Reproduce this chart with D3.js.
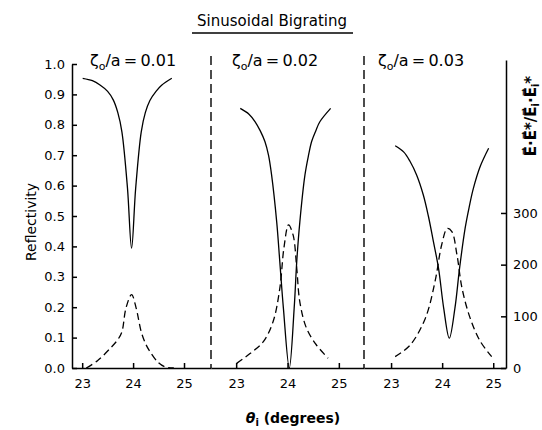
<!DOCTYPE html>
<html>
<head>
<meta charset="utf-8">
<script src="https://cdn.jsdelivr.net/npm/d3@7"></script>
<style>
  body { margin: 0; background: #fff; }
  svg { display: block; }
</style>
</head>
<body>
<div id="chart"></div>
<script>
// roughness values per panel
var ratios = ["0.01", "0.02", "0.03"];
var thetaTicks = [23, 24, 25];
var reflTicks = [0, 0.1, 0.2, 0.3, 0.4, 0.5, 0.6, 0.7, 0.8, 0.9, 1.0];
var intensTicks = [0, 100, 200, 300];

// reflectivity (solid)
var solid1Theta = [23.01, 23.2, 23.35, 23.5, 23.61, 23.7, 23.78, 23.89, 23.97, 24.05, 24.16, 24.24, 24.33, 24.45, 24.56, 24.76];
var solid1R     = [0.953, 0.945, 0.931, 0.91, 0.882, 0.84, 0.777, 0.591, 0.394, 0.59, 0.777, 0.84, 0.88, 0.91, 0.93, 0.953];
var solid2Theta = [23.08, 23.25, 23.37, 23.47, 23.56, 23.63, 23.69, 23.79, 23.85, 23.92, 24.035, 24.13, 24.18, 24.24, 24.34, 24.41, 24.47, 24.55, 24.63, 24.84];
var solid2R     = [0.854, 0.835, 0.81, 0.78, 0.745, 0.7, 0.635, 0.48, 0.35, 0.197, 0.0, 0.197, 0.35, 0.48, 0.635, 0.7, 0.745, 0.78, 0.81, 0.854];
var solid3Theta = [23.08, 23.25, 23.37, 23.5, 23.63, 23.73, 23.83, 23.93, 24.03, 24.14, 24.25, 24.34, 24.45, 24.53, 24.61, 24.75, 24.91];
var solid3R     = [0.731, 0.71, 0.68, 0.635, 0.57, 0.5, 0.415, 0.327, 0.197, 0.098, 0.197, 0.327, 0.46, 0.53, 0.59, 0.665, 0.723];

// field intensity (dashed), right axis
var dash1Theta = [23.08, 23.3, 23.55, 23.7, 23.78, 23.86, 23.97, 24.06, 24.16, 24.25, 24.33, 24.5, 24.63, 24.8];
var dash1I     = [0, 14, 38, 55, 70, 116, 142, 116, 70, 46, 32, 10, 2, 0];
var dash2Theta = [23.01, 23.27, 23.53, 23.72, 23.85, 23.93, 24.02, 24.11, 24.18, 24.24, 24.37, 24.56, 24.79];
var dash2I     = [9, 28, 51, 90, 154, 232, 277, 257, 193, 128, 77, 45, 19];
var dash3Theta = [23.08, 23.37, 23.67, 23.86, 23.99, 24.1, 24.19, 24.29, 24.39, 24.55, 24.75, 24.97];
var dash3I     = [22, 44, 96, 167, 238, 270, 264, 219, 154, 96, 51, 22];

var solids = [[solid1Theta, solid1R], [solid2Theta, solid2R], [solid3Theta, solid3R]];
var dashes = [[dash1Theta, dash1I], [dash2Theta, dash2I], [dash3Theta, dash3I]];

var width = 542, height = 430,
    fontFamily = "DejaVu Sans, sans-serif",
    panels = [
      {domain: [22.8, 25.53], range: [72, 211]},
      {domain: [22.51, 25.49], range: [211, 364]},
      {domain: [22.47, 25.25], range: [364, 506]}
    ];

var svg = d3.select("#chart").append("svg")
    .attr("width", width)
    .attr("height", height)
    .style("background", "#fff");

var y = d3.scaleLinear().domain([0, 1]).range([368, 64]);
var y2 = d3.scaleLinear().domain([0, 596]).range([368, 60]);

function styleAxis(g) {
  g.selectAll("path, line").attr("stroke", "#000").attr("stroke-width", 1.5);
  g.selectAll("text")
   .attr("font-family", fontFamily)
   .attr("font-size", 13)
   .attr("fill", "#000");
}

// left axis
svg.append("g")
   .attr("transform", "translate(72,0)")
   .call(d3.axisLeft(y).tickValues(reflTicks).tickFormat(d3.format(".1f"))
          .tickSizeInner(-5).tickSizeOuter(0).tickPadding(7))
   .call(styleAxis);

// right axis
svg.append("g")
   .attr("transform", "translate(506,0)")
   .call(d3.axisRight(y2).tickValues(intensTicks)
          .tickSizeInner(-5).tickSizeOuter(0).tickPadding(7))
   .call(styleAxis);

var line = d3.line().curve(d3.curveCatmullRom.alpha(0.5));

panels.forEach(function(p, i) {
  var x = d3.scaleLinear().domain(p.domain).range(p.range);

  svg.append("g")
     .attr("transform", "translate(0,368)")
     .call(d3.axisBottom(x).tickValues(thetaTicks).tickFormat(d3.format("d"))
            .tickSizeInner(-5).tickSizeOuter(0).tickPadding(11))
     .call(styleAxis);

  var s = solids[i];
  svg.append("path")
     .datum(d3.range(s[0].length))
     .attr("fill", "none")
     .attr("stroke", "#000")
     .attr("stroke-width", 1.3)
     .attr("d", line.x(function(k) { return x(s[0][k]); }).y(function(k) { return y(s[1][k]); }));

  var d = dashes[i];
  svg.append("path")
     .datum(d3.range(d[0].length))
     .attr("fill", "none")
     .attr("stroke", "#000")
     .attr("stroke-width", 1.3)
     .attr("stroke-dasharray", "7,4")
     .attr("d", line.x(function(k) { return x(d[0][k]); }).y(function(k) { return y2(d[1][k]); }));

  // panel divider
  if (i < panels.length - 1) {
    svg.append("line")
       .attr("x1", p.range[1]).attr("x2", p.range[1])
       .attr("y1", 56).attr("y2", 368)
       .attr("stroke", "#000")
       .attr("stroke-width", 1.4)
       .attr("stroke-dasharray", "9,5");
  }

  // panel label
  var lbl = svg.append("text")
     .attr("x", [90, 232, 378][i])
     .attr("y", 66)
     .attr("font-family", fontFamily)
     .attr("font-size", 16)
     .attr("fill", "#000");
  lbl.append("tspan").text("\u03B6");
  lbl.append("tspan").attr("font-size", 11).attr("dy", 4).text("o");
  lbl.append("tspan").attr("dy", -4).text("/a\u2009=\u2009" + ratios[i]);
});

// title
svg.append("text")
   .attr("x", 272).attr("y", 26)
   .attr("text-anchor", "middle")
   .attr("font-family", fontFamily)
   .attr("font-size", 15)
   .attr("fill", "#000")
   .text("Sinusoidal Bigrating");
svg.append("line")
   .attr("x1", 192).attr("x2", 353)
   .attr("y1", 33).attr("y2", 33)
   .attr("stroke", "#000").attr("stroke-width", 1.4);

// axis titles
svg.append("text")
   .attr("transform", "translate(36,222) rotate(-90)")
   .attr("text-anchor", "middle")
   .attr("font-family", fontFamily)
   .attr("font-size", 14)
   .attr("fill", "#000")
   .text("Reflectivity");

var xt = svg.append("text")
   .attr("x", 293).attr("y", 423)
   .attr("text-anchor", "middle")
   .attr("font-family", fontFamily)
   .attr("font-size", 14)
   .attr("font-weight", "bold")
   .attr("fill", "#000");
xt.append("tspan").attr("font-style", "italic").text("\u03B8");
xt.append("tspan").attr("font-size", 10).attr("dy", 3).text("i");
xt.append("tspan").attr("dy", -3).text(" (degrees)");

var rt = svg.append("text")
   .attr("transform", "translate(536,116) rotate(-90)")
   .attr("text-anchor", "middle")
   .attr("font-family", fontFamily)
   .attr("font-size", 15)
   .attr("font-weight", "bold")
   .attr("fill", "#000");
rt.append("tspan").text("E\u20D7\u00B7E\u20D7*/E\u20D7");
rt.append("tspan").attr("font-size", 10).attr("dy", 3).text("i");
rt.append("tspan").attr("dy", -3).text("\u00B7E\u20D7");
rt.append("tspan").attr("font-size", 10).attr("dy", 3).text("i");
rt.append("tspan").attr("dy", -3).text("*");
</script>
</body>
</html>
